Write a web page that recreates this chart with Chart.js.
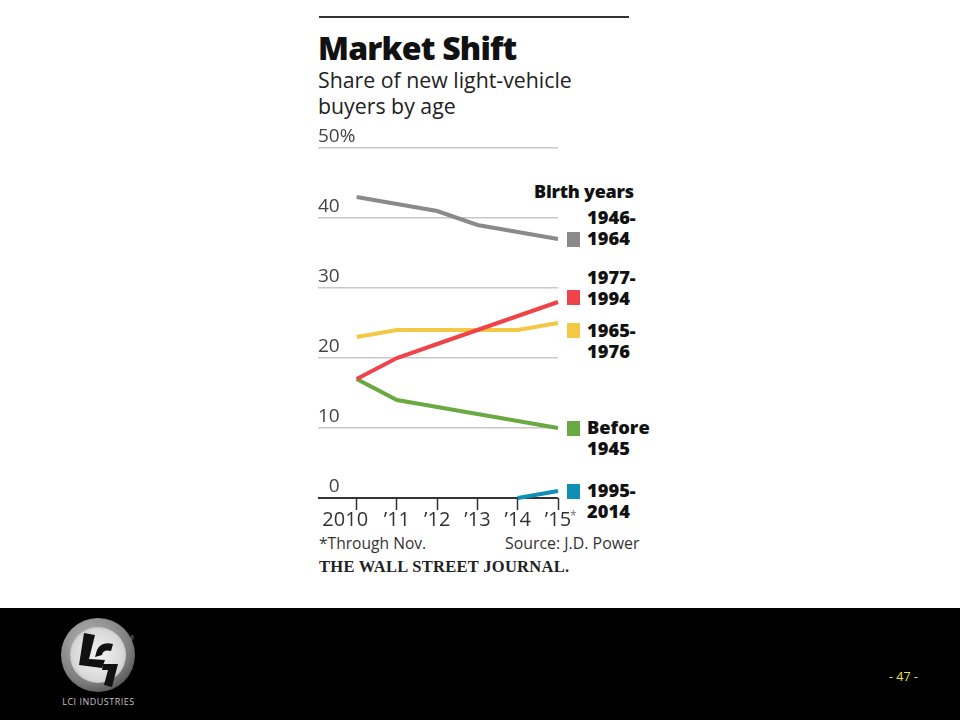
<!DOCTYPE html>
<html>
<head>
<meta charset="utf-8">
<script src="https://cdn.jsdelivr.net/npm/chart.js@4/dist/chart.umd.min.js"></script>
<style>
html,body{margin:0;padding:0;background:#fff;}
#page{position:relative;width:960px;height:720px;overflow:hidden;font-family:"Open Sans",sans-serif;color:#1a1a1a;}
#page canvas{position:absolute;left:0;top:0;}
.t{position:absolute;white-space:nowrap;}
.key{position:absolute;left:567px;width:13px;height:15px;}
.lab{position:absolute;left:587px;font-weight:800;font-size:18.3px;line-height:21px;color:#111;white-space:pre;}
#footer{position:absolute;left:0;top:608px;width:960px;height:112px;background:#000;}
</style>
</head>
<body>
<div id="page">
  <div class="t" style="left:319px;top:16px;width:310px;height:2px;background:#333"></div>
  <div class="t" style="left:318px;top:26px;font-size:32px;font-weight:800;letter-spacing:-0.8px;color:#111">Market Shift</div>
  <div class="t" style="left:318px;top:67px;font-size:21.3px;line-height:26px;color:#222">Share of new light-vehicle<br>buyers by age</div>
  <div class="t" style="left:534px;top:179px;font-size:18px;font-weight:800;letter-spacing:-0.25px;color:#111">Birth years</div>
  <div id="keys"></div>
  <div class="t" style="left:570px;top:507px;font-size:12px;color:#777">*</div>
  <div class="t" style="left:319px;top:532px;font-size:15.6px;color:#333">*Through Nov.</div>
  <div class="t" style="left:505px;top:532px;font-size:15.9px;color:#333">Source: J.D. Power</div>
  <div class="t" style="left:319px;top:557px;font-family:'Liberation Serif',serif;font-weight:bold;font-size:16.5px;letter-spacing:0.3px;color:#222">THE WALL STREET JOURNAL.</div>
  <div id="footer">
    <svg width="150" height="112" style="position:absolute;left:0;top:0">
      <defs>
        <radialGradient id="ring" cx="40%" cy="35%" r="75%"><stop offset="0" stop-color="#bdbdbd"/><stop offset="0.7" stop-color="#7d7d7d"/><stop offset="1" stop-color="#4a4a4a"/></radialGradient>
        <radialGradient id="disc" cx="50%" cy="50%" r="60%"><stop offset="0" stop-color="#f4f4f4"/><stop offset="0.75" stop-color="#d8d8d8"/><stop offset="1" stop-color="#a8a8a8"/></radialGradient>
      </defs>
      <circle cx="98" cy="47" r="37" fill="url(#ring)"/>
      <circle cx="98" cy="47" r="28" fill="url(#disc)"/>
      <path d="M84 25 L95 27 L89 51 L105 52 L102 60 L79 57 Z" fill="#111"/>
      <path d="M97 42 Q101 33 113 36 L111 43 Q103 41 102 47 L95 49 Z" fill="#111"/>
      <path d="M103 56 L118 56 L112 79 L104 77 L108 62 L102 62 Z" fill="#111"/>
      <text x="132" y="32" font-size="5" fill="#999" font-family="Open Sans" text-anchor="middle">®</text>
      <text x="98.5" y="97" font-size="9" fill="#c4c4c4" font-family="Open Sans" text-anchor="middle" letter-spacing="0.5">LCI INDUSTRIES</text>
    </svg>
    <div class="t" style="left:889px;top:60px;font-size:12.5px;color:#e4e44c">- 47 -</div>
  </div>
  <canvas id="chart" width="960" height="720"></canvas>
</div>
<script>
const years = [0,1,2,3,4,5];
const xTickLabels = ["2010\u2007\u2007","’11","’12","’13","’14","’15"];
const yTickLabels = {0:"\u20070",10:"10",20:"20",30:"30",40:"40",50:"50%"};

const boomers   = [43,42,41,39,38,37];
const millen    = [17,20,22,24,26,28];
const genX      = [23,24,24,24,24,25];
const silent    = [17,14,13,12,11,10];
const genZ      = [null,null,null,null,0,1];

const seriesNames  = ["1946-\n1964","1977-\n1994","1965-\n1976","Before\n1945","1995-\n2014"];
const seriesColors = ["#8a8a8a","#ee4349","#f2c845","#6aa842","#0f8fb5"];
const seriesValues = [boomers,millen,genX,silent,genZ];
const keyTops = [232,290,323,421,484];
const labTops = [206,266,319,416,479];

const keysDiv = document.getElementById("keys");
keysDiv.innerHTML = seriesNames.map((n,i)=>
  `<div class="key" style="top:${keyTops[i]}px;background:${seriesColors[i]}"></div>`+
  `<div class="lab" style="top:${labTops[i]}px">${n}</div>`).join("");

const datasets = seriesNames.map((n,i)=>({
  label:n,
  data:years.map((y,j)=>({x:y,y:seriesValues[i][j]})),
  borderColor:seriesColors[i],
  borderWidth:4,
  pointRadius:0,
  tension:0,
  borderCapStyle:"butt",
  clip:false,
  spanGaps:false
}));

new Chart(document.getElementById("chart"),{
  type:"line",
  data:{datasets},
  options:{
    responsive:false,
    animation:false,
    layout:{padding:{left:318,right:402,top:148,bottom:0}},
    plugins:{legend:{display:false},tooltip:{enabled:false}},
    scales:{
      x:{
        type:"linear",min:-0.96,max:5,
        afterBuildTicks:a=>{a.ticks=years.map(v=>({value:v}));},
        afterFit:a=>{a.height=222;},
        border:{display:false},
        grid:{drawOnChartArea:false,drawTicks:true,tickLength:12,tickWidth:1.5,tickColor:"#333"},
        ticks:{
          padding:-2,autoSkip:false,maxRotation:0,color:"#333",
          font:{family:"Open Sans",size:20},
          callback:v=>xTickLabels[v]
        }
      },
      y:{
        min:0,max:50,
        afterFit:a=>{a.width=0;},
        afterBuildTicks:a=>{a.ticks=Object.keys(yTickLabels).map(v=>({value:+v}));},
        border:{display:false},
        grid:{
          drawTicks:false,
          lineWidth:c=>c.tick.value===0?2:1.5,
          color:c=>c.tick.value===0?"#333":"#c8c8c8"
        },
        ticks:{
          mirror:true,padding:0,labelOffset:-11,color:"#444",
          font:{family:"Open Sans",size:19},
          callback:v=>yTickLabels[v]
        }
      }
    }
  }
});
</script>
</body>
</html>
